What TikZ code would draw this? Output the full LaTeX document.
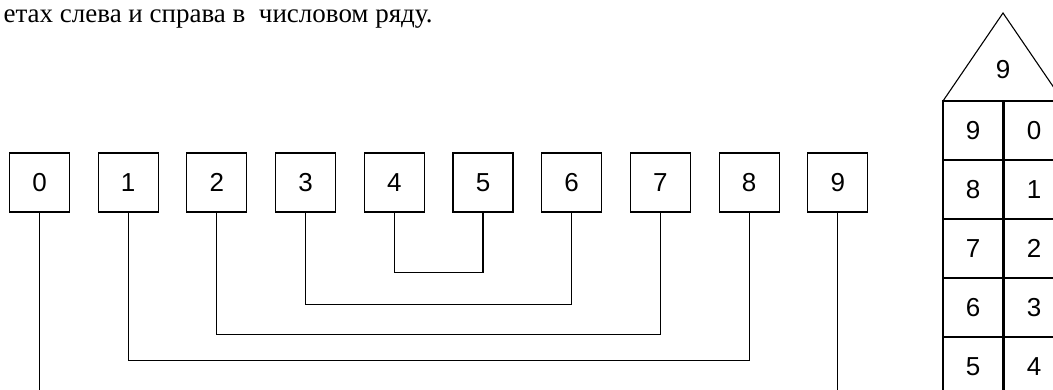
\documentclass[tikz,border=0pt]{standalone}
\usepackage{fontspec}
\setmainfont{Liberation Serif}
\newfontfamily\digitfont{Liberation Sans}
\usetikzlibrary{positioning}

\begin{document}
\begin{tikzpicture}
    [x=1pt,y=-1pt,line width=1.1pt,
    every node/.style={font=\digitfont\fontsize{26}{30}\selectfont},
    numbox/.style={draw,minimum width=60pt,minimum height=59pt,inner sep=0pt},
    cell/.style={draw,minimum width=60pt,minimum height=59pt,inner sep=0pt}]
    \useasboundingbox (0,0) rectangle (1053,390);
    \clip (0,0) rectangle (1053,390);
    % caption line at the top
    \node (cap) [anchor=base west,inner sep=0pt,font=\rmfamily\fontsize{27}{30}\selectfont]
      at (3,23) {етах слева и справа в\ \ числовом ряду.};
    % number row
    \foreach \n in {0,...,9}
      \node (b\n) [numbox] at (39.5+88.7*\n,182.5) {\n};
    % pairs that add up to nine
    \draw (b4.south) -- ++(0,60) -| (b5.south);
    \draw (b3.south) -- ++(0,92) -| (b6.south);
    \draw (b2.south) -- ++(0,122) -| (b7.south);
    \draw (b1.south) -- ++(0,148) -| (b8.south);
    \coordinate (e0) at (b0.south |- 0,395);
    \coordinate (e9) at (b9.south |- 0,395);
    \draw (b0.south) -- (e0); \draw (b9.south) -- (e9);
    % house
    \node (roof) at (1003,70) {9};
    \draw (943,101) -- (1003,13) -- (1063,101);
    \foreach \l/\r [count=\i from 0] in {9/0,8/1,7/2,6/3,5/4}
    {
      \node (l\i) [cell] at (973,130.5+59*\i) {\l};
      \node (r\i) [cell,right=0pt of l\i] {\r};
    }
  \end{tikzpicture}
\end{document}
